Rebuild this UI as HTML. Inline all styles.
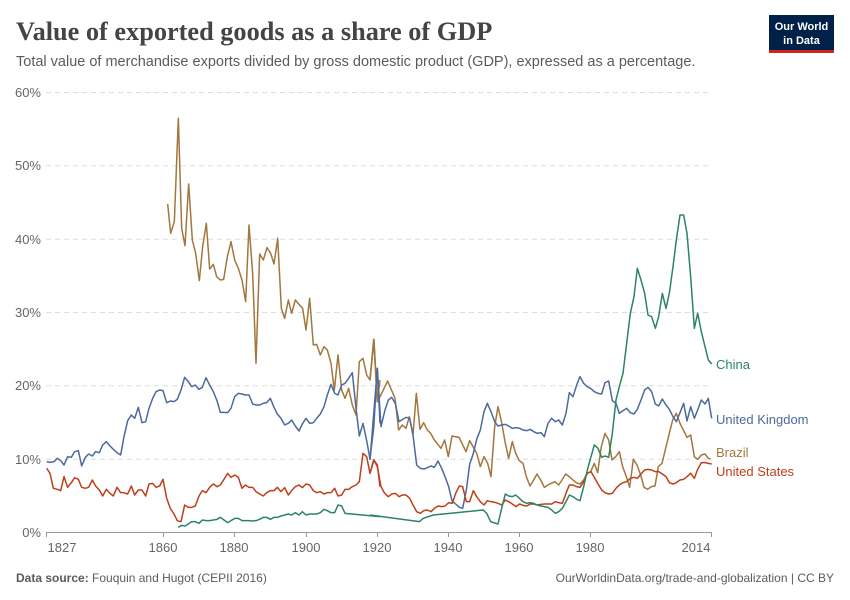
<!DOCTYPE html>
<html><head><meta charset="utf-8"><style>
body{margin:0;background:#fff;width:850px;height:600px;overflow:hidden;font-family:"Liberation Sans",sans-serif}
</style></head><body>
<svg width="850" height="600" xmlns="http://www.w3.org/2000/svg" style="position:absolute;left:0;top:0">
<text x="16" y="40" font-family="Liberation Serif,serif" font-size="26.3" font-weight="bold" fill="#444">Value of exported goods as a share of GDP</text>
<text x="16" y="66" font-size="14.5" fill="#5b5b5b">Total value of merchandise exports divided by gross domestic product (GDP), expressed as a percentage.</text>
<rect x="769" y="15" width="65" height="36" fill="#002147"/>
<rect x="769" y="50" width="65" height="3" fill="#ce261e"/>
<text x="801.5" y="30" font-size="11" font-weight="bold" fill="#fff" text-anchor="middle">Our World</text>
<text x="801.5" y="44" font-size="11" font-weight="bold" fill="#fff" text-anchor="middle">in Data</text>
<g stroke="#ddd" stroke-dasharray="5,4" stroke-width="1">
<line x1="46" x2="711" y1="92.5" y2="92.5"/><line x1="46" x2="711" y1="165.8" y2="165.8"/><line x1="46" x2="711" y1="239.2" y2="239.2"/><line x1="46" x2="711" y1="312.5" y2="312.5"/><line x1="46" x2="711" y1="385.8" y2="385.8"/><line x1="46" x2="711" y1="459.2" y2="459.2"/>
</g>
<g font-size="13" fill="#666" text-anchor="end">
<text x="41" y="97">60%</text><text x="41" y="170">50%</text><text x="41" y="244">40%</text><text x="41" y="317">30%</text><text x="41" y="390">20%</text><text x="41" y="464">10%</text><text x="41" y="537">0%</text>
</g>
<line x1="46" x2="711" y1="532.5" y2="532.5" stroke="#999"/>
<g stroke="#999"><line x1="46.5" x2="46.5" y1="532" y2="537"/><line x1="163.5" x2="163.5" y1="532" y2="537"/><line x1="234.5" x2="234.5" y1="532" y2="537"/><line x1="306.5" x2="306.5" y1="532" y2="537"/><line x1="377.5" x2="377.5" y1="532" y2="537"/><line x1="448.5" x2="448.5" y1="532" y2="537"/><line x1="519.5" x2="519.5" y1="532" y2="537"/><line x1="590.5" x2="590.5" y1="532" y2="537"/><line x1="711.5" x2="711.5" y1="532" y2="537"/></g>
<g font-size="13" fill="#666" text-anchor="middle">
<text x="62" y="552">1827</text><text x="163" y="552">1860</text><text x="234" y="552">1880</text><text x="306" y="552">1900</text><text x="377" y="552">1920</text><text x="448" y="552">1940</text><text x="519" y="552">1960</text><text x="590" y="552">1980</text><text x="696" y="552">2014</text>
</g>
<g fill="none" stroke-width="1.5" stroke-linejoin="round">
<g transform="translate(40,100) scale(0.33333)">
<polyline vector-effect="non-scaling-stroke" stroke="#a2773d" points="383,312 392,400 403,365 415,55 425,385 435,437 446,252 457,420 467,460 478,542 488,440 499,370 509,507 520,493 530,530 541,540 551,538 562,470 573,425 584,480 595,505 606,540 617,605 627,375 638,520 648,790 659,462 670,480 681,443 692,460 702,492 713,415 724,625 734,655 745,600 755,640 766,600 777,613 788,625 798,690 809,595 820,735 830,733 841,765 852,740 862,750 873,790 883,870 894,765 905,870 915,895 926,865 937,915 948,945 958,785 969,775 980,825 990,840 1001,718 1012,905 1020,840"/>
<polyline vector-effect="non-scaling-stroke" stroke="#4c6a9c" points="20,1085 30,1087 42,1085 52,1075 62,1082 72,1095 83,1070 94,1072 104,1055 115,1052 125,1098 136,1072 146,1062 157,1068 167,1055 178,1058 188,1035 199,1025 210,1038 220,1048 231,1058 242,1065 252,1010 263,962 274,945 284,955 295,922 306,968 317,965 327,925 338,895 348,875 359,870 369,872 380,908 391,903 402,905 412,898 423,870 434,832 445,845 455,860 466,855 477,868 487,862 498,833 509,855 520,875 531,902 541,937 552,937 563,938 573,925 584,890 595,880 606,882 616,885 627,885 638,912 648,915 659,915 670,910 680,908 691,895 702,922 712,942 723,955 734,975 745,970 755,960 766,978 777,993 787,972 798,955 809,970 820,968 830,955 841,942 852,920 862,885 873,853 884,880 894,885 905,855 915,850 926,835 937,818 948,925 958,1008 969,970 980,1022 990,1077 1001,985 1012,805 1020,970"/>
<polyline vector-effect="non-scaling-stroke" stroke="#be3f1c" points="20,1105 30,1120 40,1165 52,1168 62,1172 72,1130 83,1162 94,1148 104,1133 115,1138 125,1162 136,1165 146,1162 157,1140 167,1158 178,1170 188,1188 199,1168 210,1180 220,1188 231,1162 242,1178 252,1178 263,1182 274,1158 284,1185 295,1170 306,1170 317,1188 327,1152 338,1150 348,1162 359,1158 369,1138 380,1195 391,1225 402,1242 412,1262 423,1265 434,1215 445,1222 455,1222 466,1218 477,1188 487,1172 498,1178 509,1162 520,1152 531,1160 541,1155 552,1138 563,1120 573,1132 584,1125 595,1132 606,1165 616,1155 627,1162 638,1162 648,1175 659,1182 670,1188 680,1178 691,1172 702,1172 712,1162 723,1175 734,1163 745,1185 755,1172 766,1160 777,1155 787,1163 798,1152 809,1155 820,1172 830,1178 841,1175 852,1182 862,1178 873,1178 884,1165 894,1188 905,1185 915,1168 926,1168 937,1160 948,1155 958,1145 969,1060 980,1070 990,1120 1001,1080 1012,1095 1020,1160"/>
<polyline vector-effect="non-scaling-stroke" stroke="#2c8465" points="415,1282 425,1276 435,1278 445,1272 455,1265 466,1265 477,1270 487,1260 498,1262 509,1262 520,1260 531,1258 541,1252 552,1260 563,1268 573,1262 584,1255 595,1255 606,1262 616,1262 627,1262 638,1263 648,1262 659,1258 670,1252 680,1252 691,1258 702,1252 712,1252 723,1248 734,1245 745,1242 755,1245 766,1238 777,1245 787,1235 798,1245 809,1242 820,1242 830,1242 841,1238 852,1228 862,1232 873,1238 884,1238 894,1215 905,1218 915,1240 1020,1250"/>
</g>
<g transform="translate(370,200) scale(0.33333)">
<polyline vector-effect="non-scaling-stroke" stroke="#a2773d" points="0,540 12,418 22,605 35,580 53,543 75,595 86,690 97,675 108,685 118,650 129,705 139,580 150,688 161,668 172,690 182,700 193,720 213,745 224,720 235,770 246,708 267,712 288,755 299,722 309,740 320,760 331,800 342,770 353,790 363,830 374,680 384,620 395,668 406,730 416,775 427,725 437,760 448,782 459,790 469,830 480,858 491,840 501,822 512,840 523,862 534,855 544,850 555,845 566,855 576,840 587,822 598,830 609,840 619,848 630,852 641,840 651,820 662,815 673,790 683,818 694,740 705,700 716,720 726,780 737,770 748,755 758,800 769,830 779,862 790,778 801,795 812,825 822,862 833,868 844,860 855,858 865,800 876,790 887,745 898,700 908,660 919,640 930,670 940,690 951,712 962,705 973,770 983,778 994,765 1005,762 1015,775 1022,777"/>
<polyline vector-effect="non-scaling-stroke" stroke="#4c6a9c" points="0,780 22,505 33,680 45,630 55,600 65,592 76,610 87,665 98,658 108,652 119,655 129,705 140,795 151,805 162,807 172,803 183,798 193,802 204,783 215,805 225,830 236,860 246,902 257,912 268,922 278,925 289,870 299,793 310,760 320,718 331,690 342,635 352,610 363,635 374,665 384,678 395,675 406,673 416,678 427,685 438,683 449,685 459,690 470,692 481,688 491,695 502,700 513,698 523,710 534,670 545,655 556,665 566,660 577,675 588,640 598,578 609,590 620,555 630,530 641,550 652,560 663,566 673,575 684,580 695,582 705,548 716,543 727,602 738,610 748,640 759,632 770,625 781,638 792,642 802,628 813,600 824,570 834,562 845,575 856,612 866,618 877,597 888,615 898,628 909,650 919,665 930,638 941,610 951,663 962,620 973,655 983,630 994,600 1005,612 1015,595 1025,655"/>
<polyline vector-effect="non-scaling-stroke" stroke="#be3f1c" points="0,820 12,780 22,800 33,860 44,880 55,890 65,882 76,880 87,890 97,885 108,885 119,895 129,915 140,935 151,940 161,932 172,930 183,935 193,925 204,918 215,920 225,918 236,908 247,910 257,880 268,858 278,860 289,905 299,905 310,872 320,890 331,905 342,915 352,902 363,905 374,907 384,910 395,915 406,900 416,905 427,912 438,920 449,912 459,916 470,918 481,912 491,912 502,915 513,913 523,912 534,912 545,912 556,905 566,908 577,910 588,880 598,855 609,855 620,860 630,862 641,845 652,820 663,815 673,832 684,852 695,870 705,878 716,882 727,880 738,865 748,855 759,848 770,845 781,835 792,832 802,835 813,822 824,810 834,808 845,810 856,815 866,815 877,822 888,830 898,848 909,852 919,848 930,840 941,838 951,830 962,820 973,835 983,808 994,788 1005,788 1015,790 1025,792"/>
<polyline vector-effect="non-scaling-stroke" stroke="#2c8465" points="0,945 148,965 160,955 190,945 340,930 350,940 362,965 384,972 395,925 406,882 416,888 427,890 437,885 448,895 459,905 470,910 481,908 491,910 502,915 513,918 523,920 534,922 545,930 556,940 566,935 577,925 588,905 598,885 609,890 620,898 630,902 641,860 652,810 663,770 673,735 684,745 695,772 705,768 716,772 727,700 738,600 748,560 759,520 770,430 781,340 792,290 802,205 813,240 824,280 834,345 845,350 856,385 866,350 877,280 888,325 898,280 909,200 919,120 930,45 941,45 951,100 962,230 973,385 983,340 994,395 1005,440 1015,480 1025,492"/>
</g>
</g>
<g font-size="13">
<text x="716" y="369" fill="#2c8465">China</text>
<text x="716" y="424" fill="#4c6a9c">United Kingdom</text>
<text x="716" y="457" fill="#a2773d">Brazil</text>
<text x="716" y="476" fill="#be3f1c">United States</text>
</g>
<text x="16" y="582" font-size="12" fill="#5b5b5b"><tspan font-weight="bold">Data source:</tspan> Fouquin and Hugot (CEPII 2016)</text>
<text x="834" y="582" font-size="12" fill="#5b5b5b" text-anchor="end">OurWorldinData.org/trade-and-globalization | CC BY</text>
</svg>
</body></html>
